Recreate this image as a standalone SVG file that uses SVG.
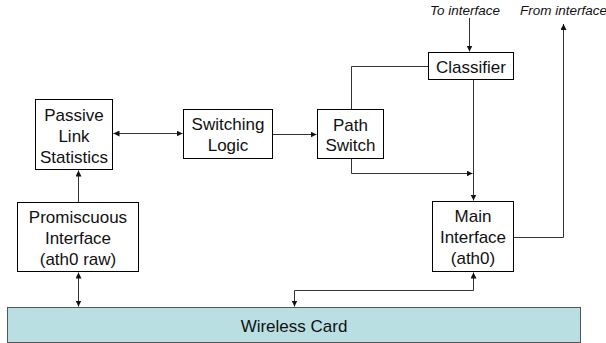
<svg xmlns="http://www.w3.org/2000/svg" width="606" height="343" viewBox="0 0 606 343">
<style>
.box{fill:#fff;stroke:#000;stroke-width:1}
.card{fill:#b9dfe2;stroke:#555;stroke-width:1}
.t{font-family:"Liberation Sans",Arial,sans-serif;font-size:17px;fill:#111;text-anchor:middle}
.it{font-family:"Liberation Sans",Arial,sans-serif;font-size:13.5px;font-style:italic;fill:#111}
.c{fill:none;stroke:#333;stroke-width:1}
</style>
<defs>
<marker id="ah" markerUnits="userSpaceOnUse" markerWidth="7" markerHeight="6" refX="6" refY="3" orient="auto-start-reverse">
<path d="M0,0 L6,3 L0,6 Z" fill="#111"/>
</marker>
</defs>
<rect width="606" height="343" fill="#fff"/>
<g id="connectors">
<path class="c" d="M469.5,18 V51.5" marker-end="url(#ah)"/>
<path class="c" d="M428,66.5 H351.5 V109"/>
<path class="c" d="M473.5,80 V200.5" marker-end="url(#ah)"/>
<path class="c" d="M351.5,159 V173.5 H472.5" marker-end="url(#ah)"/>
<path class="c" d="M514,237.5 H563.5 V24" marker-end="url(#ah)"/>
<path class="c" d="M273,134.5 H316.5" marker-end="url(#ah)"/>
<path class="c" d="M113.5,133.5 H182.5" marker-start="url(#ah)" marker-end="url(#ah)"/>
<path class="c" d="M78.5,202 V170.5" marker-end="url(#ah)"/>
<path class="c" d="M78.5,272.5 V306.5" marker-start="url(#ah)" marker-end="url(#ah)"/>
<path class="c" d="M473.5,272.5 V290.5 H294.5 V306.5" marker-start="url(#ah)" marker-end="url(#ah)"/>
</g>
<g id="labels">
<text class="it" x="430" y="15">To interface</text>
<text class="it" x="520" y="15">From interface</text>
</g>
<g id="classifier">
<rect class="box" x="428.5" y="52.5" width="85" height="27"/>
<text class="t" x="471" y="73">Classifier</text>
</g>
<g id="passive">
<rect class="box" x="35.5" y="99.5" width="77" height="70"/>
<text class="t" x="74" y="121">Passive</text>
<text class="t" x="74" y="142">Link</text>
<text class="t" x="74" y="163">Statistics</text>
</g>
<g id="switching">
<rect class="box" x="183.5" y="109.5" width="89" height="49"/>
<text class="t" x="228" y="130">Switching</text>
<text class="t" x="228" y="151">Logic</text>
</g>
<g id="pathswitch">
<rect class="box" x="317.5" y="109.5" width="66" height="49"/>
<text class="t" x="350.5" y="131">Path</text>
<text class="t" x="350.5" y="151">Switch</text>
</g>
<g id="promiscuous">
<rect class="box" x="17.5" y="202.5" width="121" height="69"/>
<text class="t" x="78" y="223">Promiscuous</text>
<text class="t" x="78" y="244">Interface</text>
<text class="t" x="78" y="265">(ath0 raw)</text>
</g>
<g id="main">
<rect class="box" x="432.5" y="201.5" width="81" height="70"/>
<text class="t" x="473" y="222">Main</text>
<text class="t" x="473" y="243">Interface</text>
<text class="t" x="473" y="264">(ath0)</text>
</g>
<g id="wireless">
<rect class="card" x="7.5" y="307.5" width="573" height="35"/>
<text class="t" x="294" y="332">Wireless Card</text>
</g>
</svg>
